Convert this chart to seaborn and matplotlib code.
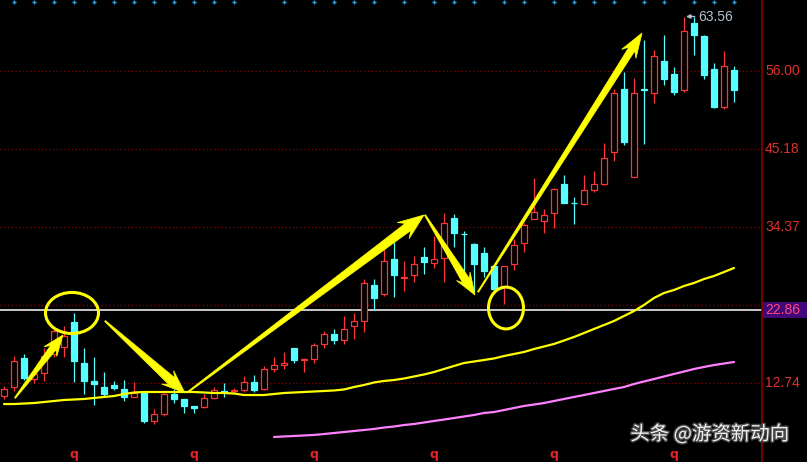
import numpy as np
import pandas as pd
import matplotlib
matplotlib.use("Agg")
import matplotlib.pyplot as plt
import seaborn as sns
from matplotlib.patches import Ellipse, Rectangle, Polygon
from matplotlib.transforms import IdentityTransform
import matplotlib.patheffects as pe

sns.set_theme(style="dark", rc={"axes.facecolor": "black", "figure.facecolor": "black"})
plt.rcParams['font.family'] = ['Liberation Sans', 'Noto Sans CJK SC', 'DejaVu Sans']

# daily candles (price)
opens = [10.92, 12.17, 16.20, 13.28, 14.11, 16.75, 17.72, 21.19, 15.50, 13.01,
         12.17, 12.45, 11.90, 10.79, 11.48, 7.46, 8.43, 11.20, 10.51, 9.54,
         9.40, 10.65, 11.62, 11.62, 11.76, 12.87, 11.90, 14.67, 15.22, 17.58,
         15.98, 16.06, 18.14, 19.52, 18.69, 20.63, 21.33, 26.32, 25.07, 29.93,
         27.36, 27.71, 30.20, 29.37, 30.07, 35.61, 33.46, 32.01, 30.76, 28.96,
         26.04, 29.23, 32.15, 35.47, 35.20, 36.31, 40.33, 37.76, 37.56, 39.50,
         40.33, 44.77, 53.51, 41.30, 53.44, 52.95, 57.39, 55.59, 53.37, 62.66,
         60.86, 56.28, 51.01, 56.14]
closes = [11.90, 15.78, 13.42, 13.98, 16.47, 19.94, 19.25, 15.78, 13.01, 12.59,
          11.20, 12.03, 10.79, 11.34, 7.46, 8.43, 11.20, 10.51, 9.54, 9.26,
          10.65, 11.76, 11.48, 11.76, 12.87, 11.76, 14.67, 15.22, 15.50, 15.92,
          16.06, 18.00, 19.52, 18.69, 20.22, 21.33, 26.60, 24.52, 29.65, 27.71,
          27.43, 29.23, 29.51, 29.93, 34.92, 33.53, 33.39, 29.23, 28.26, 25.77,
          28.96, 31.87, 34.64, 36.45, 36.03, 39.64, 37.69, 37.69, 39.50, 40.33,
          43.94, 52.95, 46.15, 52.95, 53.37, 58.08, 54.89, 53.09, 61.55, 61.00,
          55.45, 51.01, 56.70, 53.37]
highs = [12.31, 16.47, 16.75, 14.53, 17.58, 20.50, 20.63, 22.44, 17.58, 16.33,
         14.25, 13.01, 13.14, 12.87, 11.48, 9.12, 11.34, 11.90, 10.51, 9.54,
         11.20, 12.17, 12.73, 12.03, 13.70, 13.84, 15.09, 16.33, 17.03, 17.58,
         16.20, 18.28, 19.94, 20.22, 22.02, 22.44, 27.15, 27.15, 31.31, 32.28,
         29.65, 30.34, 31.59, 33.12, 36.31, 36.17, 33.81, 32.15, 31.59, 28.96,
         28.96, 32.70, 34.92, 41.16, 36.86, 39.77, 41.58, 38.53, 41.58, 42.13,
         46.02, 53.51, 55.86, 55.03, 60.30, 58.91, 61.00, 56.56, 63.56, 63.49,
         61.00, 57.11, 58.78, 56.70]
lows = [10.51, 11.62, 13.14, 12.73, 13.01, 16.33, 16.33, 12.87, 11.20, 9.68,
        10.79, 11.76, 10.23, 10.79, 7.18, 7.04, 8.15, 9.95, 8.57, 8.57,
        9.26, 10.51, 10.79, 11.34, 11.48, 11.48, 11.76, 14.25, 14.67, 15.50,
        14.25, 15.50, 17.58, 18.14, 18.14, 18.83, 19.80, 22.85, 24.79, 24.66,
        25.49, 26.74, 27.85, 28.68, 26.74, 31.59, 26.74, 25.21, 27.43, 25.21,
        23.69, 28.40, 30.90, 35.47, 33.53, 34.23, 37.69, 34.78, 37.42, 39.22,
        40.19, 43.52, 45.74, 41.30, 45.88, 51.56, 54.06, 52.67, 53.09, 58.22,
        54.89, 50.87, 50.73, 51.70]

# moving averages
ma_short = [9.81, 9.81, 9.88, 9.95, 10.09, 10.23, 10.37, 10.44, 10.51, 10.65,
            10.79, 10.92, 11.20, 11.41, 11.48, 11.48, 11.48, 11.48, 11.48, 11.48,
            11.41, 11.34, 11.34, 11.27, 11.06, 11.06, 11.06, 11.20, 11.34, 11.41,
            11.48, 11.55, 11.62, 11.69, 11.83, 12.17, 12.45, 12.80, 13.01, 13.14,
            13.35, 13.63, 13.91, 14.25, 14.67, 15.09, 15.50, 15.71, 15.92, 16.13,
            16.47, 16.75, 17.03, 17.44, 17.79, 18.14, 18.62, 19.11, 19.66, 20.22,
            20.77, 21.33, 22.02, 22.71, 23.55, 24.52, 25.21, 25.63, 26.18, 26.60,
            27.15, 27.57, 28.12, 28.68]
ma_long_start = 27
ma_long = [5.24, 5.31, 5.38, 5.45, 5.52, 5.65, 5.79, 5.93, 6.07, 6.21,
           6.35, 6.55, 6.69, 6.90, 7.04, 7.25, 7.46, 7.66, 7.87, 8.08,
           8.29, 8.57, 8.70, 8.98, 9.26, 9.54, 9.74, 9.95, 10.23, 10.51,
           10.79, 11.06, 11.34, 11.62, 11.90, 12.17, 12.59, 12.94, 13.28, 13.63,
           13.98, 14.32, 14.67, 14.95, 15.22, 15.43, 15.64]

grid_levels = [56.00, 45.18, 34.37, 23.55, 12.74]
axis_labels = ["56.00", "45.18", "34.37", None, "12.74"]
last_line = 22.86
q_marks = [7, 19, 31, 43, 55, 67]
top_marks = [1, 3, 5, 7, 9, 11, 13, 15, 17, 19, 21, 23, 28, 31, 33, 35, 37, 40,
             43, 45, 47, 50, 52, 55, 57, 59, 61, 64, 66, 69, 71, 73]

RED = '#ff3434'
CYAN = '#55ffff'
YEL = '#ffff00'

fig = plt.figure(figsize=(8.07, 4.62), dpi=100)
ax = fig.add_axes([0, 0, 762 / 807, 1])
ax.set_facecolor('black')
ax.set_xlim(-0.4, 75.8)
ax.set_ylim(1.77, 65.85)

# grid + last price line
for g in grid_levels:
    ax.axhline(g, color='#8a0000', lw=0.9, ls=(0, (1, 2)), zorder=1)
ax.axhline(last_line, color='white', lw=1.1, zorder=2)

# candles
df = pd.DataFrame({'o': opens, 'h': highs, 'l': lows, 'c': closes})
df['i'] = np.arange(len(df))
for _, r in df.iterrows():
    up = r.c > r.o
    top, bot = max(r.o, r.c), min(r.o, r.c)
    if up:
        ax.vlines(r.i, top, r.h, color=RED, lw=0.9, zorder=3)
        ax.vlines(r.i, r.l, bot, color=RED, lw=0.9, zorder=3)
        ax.bar(r.i, max(top - bot, 0.05), bottom=bot, width=0.62, facecolor='black',
               edgecolor=RED, linewidth=0.9, zorder=4)
    else:
        ax.vlines(r.i, r.l, r.h, color=CYAN, lw=0.9, zorder=3)
        ax.bar(r.i, max(top - bot, 0.05), bottom=bot, width=0.62, facecolor=CYAN,
               edgecolor=CYAN, linewidth=0.9, zorder=4)

# moving averages
ma1 = pd.DataFrame({'i': np.arange(len(ma_short)), 'v': ma_short})
ma2 = pd.DataFrame({'i': np.arange(ma_long_start, ma_long_start + len(ma_long)), 'v': ma_long})
sns.lineplot(data=ma1, x='i', y='v', color=YEL, lw=1.6, ax=ax, zorder=5)
sns.lineplot(data=ma2, x='i', y='v', color='#ff80ff', lw=1.6, ax=ax, zorder=5)


def taper_arrow(tail, head, tw, hw, hl):
    # tapered hand-drawn arrow, sizes in pixels
    p0 = ax.transData.transform(tail)
    p1 = ax.transData.transform(head)
    u = (p1 - p0) / np.linalg.norm(p1 - p0)
    n = np.array([-u[1], u[0]])
    base = p1 - u * hl
    pts = [p0 + n * 0.6, base + n * tw / 2, base + n * hw / 2 - u * hl * 0.3, p1,
           base - n * hw / 2 - u * hl * 0.3, base - n * tw / 2, p0 - n * 0.6]
    ax.add_patch(Polygon(pts, closed=True, facecolor=YEL, edgecolor=YEL, lw=0.5,
                         transform=IdentityTransform(), zorder=7))


# yellow hand-drawn annotations
arrows = [((1.1, 10.65), (5.9, 19.39), 7, 16, 16),
          ((10.1, 21.33), (18.1, 11.34), 9, 18, 18),
          ((18.4, 11.48), (42.0, 36.03), 9, 20, 20),
          ((42.1, 36.03), (47.1, 24.93), 8, 16, 17),
          ((47.4, 25.35), (63.8, 61.27), 7, 17, 19)]
for tail, head, tw, hw, hl in arrows:
    taper_arrow(tail, head, tw, hw, hl)
ax.add_patch(Ellipse((6.8, 22.44), 5.3, 5.7, fill=False, ec=YEL, lw=2.2, zorder=7))
ax.add_patch(Ellipse((50.2, 23.13), 3.5, 5.8, fill=False, ec=YEL, lw=2.2, zorder=7))

# max price marker
ax.annotate('63.56', xy=(68.2, 63.56), xytext=(69.4, 63.56), color='#b4c0cc',
            fontsize=10, va='center', ha='left',
            arrowprops=dict(arrowstyle='-|>', color='#b4c0cc', lw=1, shrinkA=0, shrinkB=0,
                            mutation_scale=6))

# bottom q marks and top ticks
for q in q_marks:
    ax.text(q, 2.75, 'q', color='#e82020', fontsize=9, fontweight='bold',
            ha='center', va='center', family='DejaVu Sans')
ax.scatter(top_marks, [65.6] * len(top_marks), marker='+', s=12, color='#2aa0d8',
           linewidths=1, zorder=6, clip_on=False)

# right price axis
ax.axvline(75.8, color='#8a0000', lw=1.2, clip_on=False)
for g, lab in zip(grid_levels, axis_labels):
    if lab:
        ax.text(76.1, g, lab, color='#e03030', fontsize=10, va='center', ha='left',
                clip_on=False)
ax.add_patch(Rectangle((75.85, last_line - 1.1), 4.6, 2.2, facecolor='#40087a',
                       edgecolor='none', clip_on=False, zorder=8))
ax.text(76.1, last_line, f'{last_line:.2f}', color='#ff4a7a', fontsize=10,
        va='center', ha='left', clip_on=False, zorder=9)

# watermark
ax.text(70.6, 5.6, '头条 @游资新动向', color='white', fontsize=14, ha='center',
        va='center', family=['Noto Sans CJK SC', 'DejaVu Sans'], alpha=0.9, zorder=9,
        path_effects=[pe.withStroke(linewidth=2, foreground='#505050')])

ax.set_xlabel('')
ax.set_ylabel('')
ax.set_xticks([])
ax.set_yticks([])
ax.grid(False)
for s in ax.spines.values():
    s.set_visible(False)

fig.savefig('out.png', dpi=100, facecolor='black')
